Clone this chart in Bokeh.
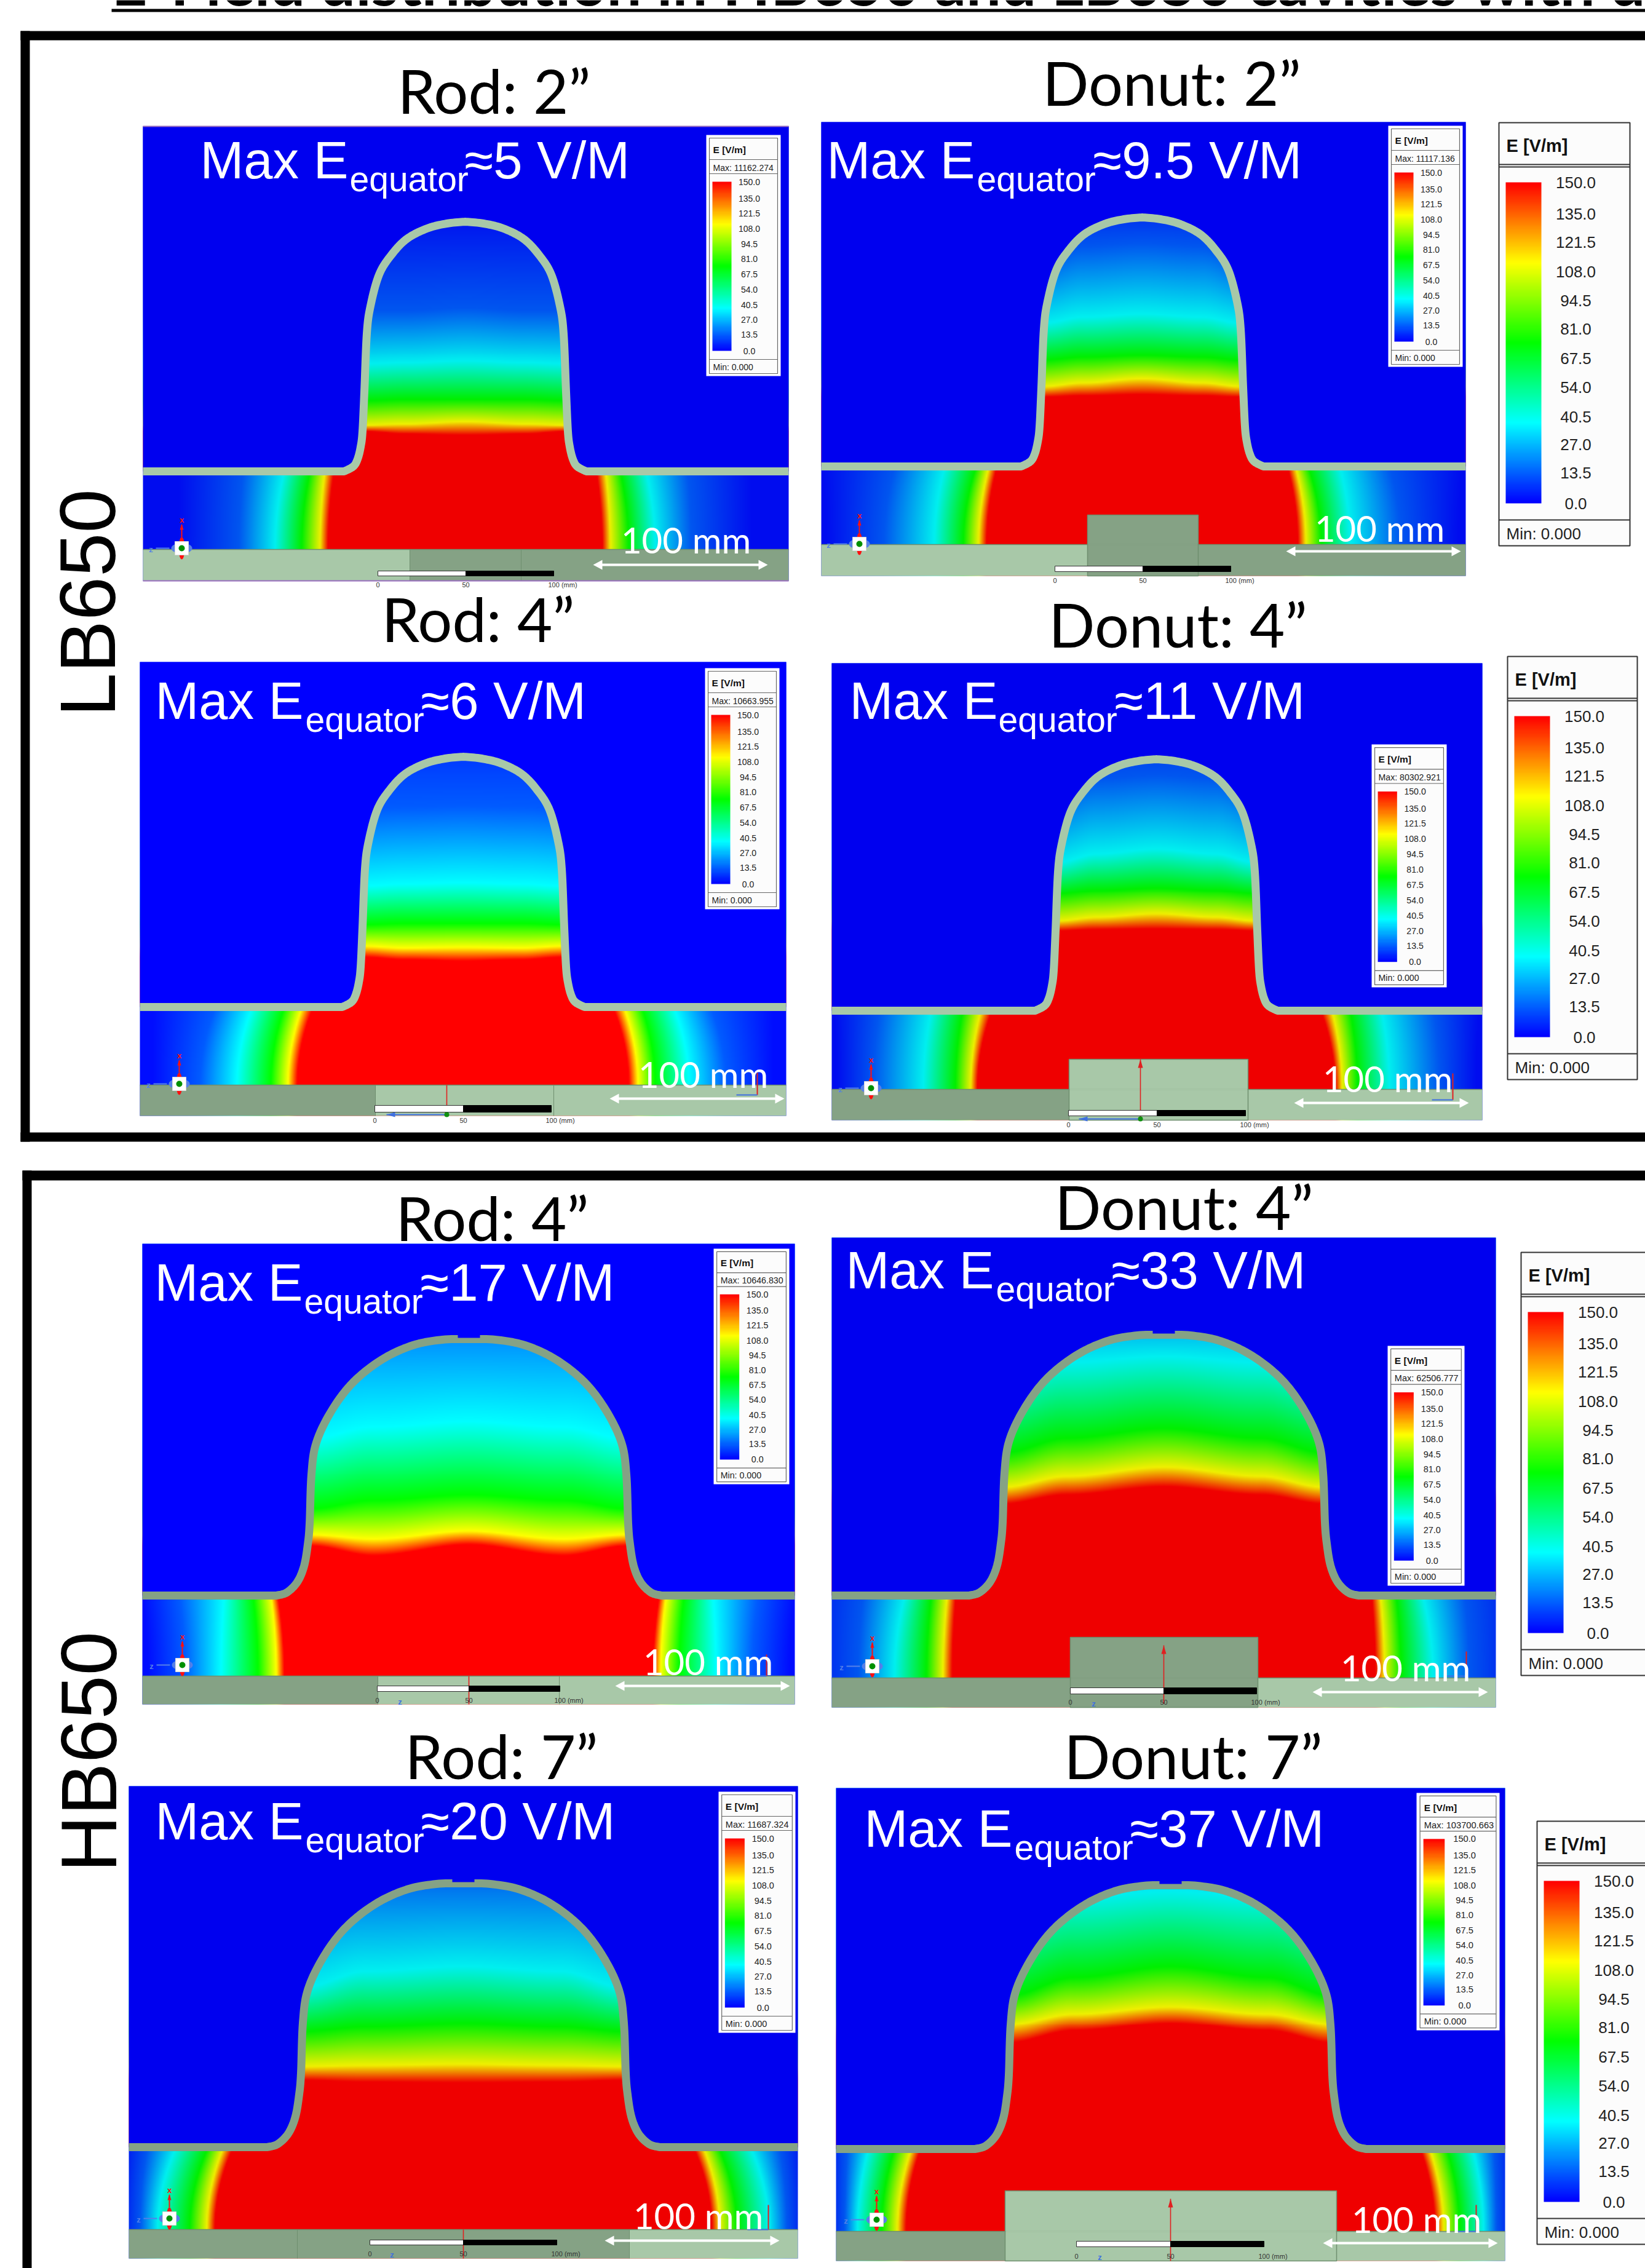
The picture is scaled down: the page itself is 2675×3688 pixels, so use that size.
import numpy as np
from bokeh.plotting import figure
from bokeh.embed import file_html
from bokeh.resources import INLINE
from bokeh.core.properties import value

# ---------- data ----------
title_text = "E-Field distribution in HB650 and LB650 cavities with different"
side_labels = ["LB650", "HB650"]
scale_labels = ["0", "50", "100 (mm)"]
legend_values = ["150.0", "135.0", "121.5", "108.0", "94.5", "81.0", "67.5", "54.0", "40.5", "27.0", "13.5", "0.0"]
color_levels = [0.0, 37.5, 75.0, 112.5, 150.0]
color_rgb = [(0, 0, 255), (0, 255, 255), (0, 255, 0), (255, 255, 0), (255, 0, 0)]

panel_titles = ["Rod: 2”", "Donut: 2”", "Rod: 4”", "Donut: 4”", "Rod: 4”", "Donut: 4”", "Rod: 7”", "Donut: 7”"]
equator_values = ["≈5 V/M", "≈9.5 V/M", "≈6 V/M", "≈11  V/M", "≈17 V/M", "≈33 V/M", "≈20 V/M", "≈37 V/M"]
legend_max = ["Max: 11162.274", "Max: 11117.136", "Max: 10663.955", "Max: 80302.921",
              "Max: 10646.830", "Max: 62506.777", "Max: 11687.324", "Max:  103700.663"]

# cavity wall outlines: half-width and height above the beam-pipe line
lb_dx = [197, 182, 175, 170, 167, 164, 160, 154, 140, 120, 95, 62, 30, 0]
lb_up = [0, 8, 20, 40, 65, 129, 224, 269, 320, 352, 378, 395, 403, 406]
hb_dx = [313, 296, 279, 268, 262, 259, 256, 248, 223, 188, 141, 91, 43, 0]
hb_up = [0, 5, 22, 48, 83, 117, 197, 249, 301, 347, 384, 407, 416, 417]

# field in the dome: value, row at centre, row at mid-width, row at the wall
dome_rod2_lb = [(4, 367, 367, 367), (13.5, 500, 505, 505), (37.5, 587, 590, 592), (75, 650, 650, 652), (112.5, 686, 690, 692), (150, 708, 706, 702)]
dome_donut2_lb = [(9, 360, 360, 360), (13.5, 395, 400, 420), (37.5, 510, 515, 525), (75, 577, 580, 585), (112.5, 615, 622, 628), (150, 641, 643, 645)]
dome_rod4_lb = [(9, 1237, 1237, 1237), (13.5, 1310, 1312, 1315), (37.5, 1435, 1437, 1440), (75, 1501, 1501, 1503), (112.5, 1540, 1541, 1538), (150, 1562, 1560, 1556)]
dome_donut4_lb = [(12, 1241, 1241, 1241), (13.5, 1260, 1265, 1285), (37.5, 1380, 1388, 1402), (75, 1444, 1448, 1453), (112.5, 1486, 1492, 1498), (150, 1511, 1512, 1514)]
dome_rod4_hb = [(22, 2183, 2183, 2183), (37.5, 2311, 2320, 2339), (75, 2431, 2440, 2454), (112.5, 2490, 2503, 2496), (150, 2512, 2530, 2514)]
dome_donut4_hb = [(31, 2176, 2176, 2176), (37.5, 2205, 2215, 2240), (75, 2322, 2338, 2362), (112.5, 2385, 2400, 2418), (150, 2417, 2430, 2445)]
dome_rod7_hb = [(18, 3068, 3068, 3068), (37.5, 3197, 3205, 3232), (75, 3290, 3295, 3303), (112.5, 3356, 3358, 3360), (150, 3386, 3385, 3382)]
dome_donut7_hb = [(36, 3071, 3071, 3071), (37.5, 3075, 3085, 3110), (75, 3197, 3215, 3245), (112.5, 3263, 3275, 3292), (150, 3290, 3302, 3322)]

# field in the pipe: value, distance from centre at the wall, distance at the floor
pipe_rod2_lb = [(2, 466, 466), (13.5, 361, 368), (37.5, 294, 309), (75, 252, 266), (112.5, 228, 236), (150, 213, 223)]
pipe_donut2_lb = [(2, 520, 514), (13.5, 402, 420), (37.5, 321, 338), (75, 270, 291), (112.5, 249, 266), (150, 236, 253)]
pipe_rod4_lb = [(2, 505, 505), (13.5, 403, 428), (37.5, 343, 368), (75, 291, 313), (112.5, 262, 285), (150, 244, 270)]
pipe_donut4_lb = [(2, 524, 520), (13.5, 451, 460), (37.5, 366, 379), (75, 315, 327), (112.5, 285, 302), (150, 267, 291)]
pipe_rod4_hb = [(2, 531, 522), (13.5, 471, 462), (37.5, 398, 403), (75, 351, 343), (112.5, 322, 313), (150, 311, 300)]
pipe_donut4_hb = [(2, 590, 590), (13.5, 489, 497), (37.5, 421, 438), (75, 378, 386), (112.5, 352, 359), (150, 338, 344)]
pipe_rod7_hb = [(2, 555, 560), (13.5, 514, 526), (37.5, 467, 497), (75, 415, 445), (112.5, 390, 417), (150, 374, 404)]
pipe_donut7_hb = [(2, 560, 560), (13.5, 526, 530), (37.5, 491, 509), (75, 449, 470), (112.5, 421, 444), (150, 406, 430)]

LIGHT, DARK = "#A8C8A8", "#85A285"

# ---------- layout ----------
panels = [
 dict(x=(232, 1282), y=(205, 944), floor=893, yf=766, ya=360, cx=756, W=161, lb=True, b=.94, wall=LIGHT,
      dome=dome_rod2_lb, pipe=pipe_rod2_lb, segs=[(232, 666, LIGHT), (666, 1282, DARK)], seplines=[666, 847], stub=None,
      bar=(614, 757, 900, 928, 936), barlab=950, triad=(295, 891), mini=None, hund=(1115, 877), arrow=(964, 1248, 918),
      maxe=(325, 290, 568, 755), tc=(803, 182), leg=(1148, 219, 121, 392), center=None, big=None, base=None, zt=None),
 dict(x=(1335, 2383), y=(198, 936), floor=885, yf=758, ya=353, cx=1857, W=161, lb=True, b=.94, wall=LIGHT,
      dome=dome_donut2_lb, pipe=pipe_donut2_lb, segs=[(1335, 1768, LIGHT), (1768, 2383, DARK)], seplines=[1768, 1948], stub=(1768, 1948, 837, DARK),
      bar=(1715, 1858, 2001, 920, 929), barlab=943, triad=(1397, 884), mini=None, hund=(2243, 858), arrow=(2091, 2375, 896),
      maxe=(1344, 290, 1588, 1777), tc=(1905, 169), leg=(2257, 204, 121, 392), center=None, big=(2437, 199, 213, 688), base=None, zt=None),
 dict(x=(227, 1278), y=(1076, 1814), floor=1764, yf=1637, ya=1230, cx=753, W=161, lb=True, b=1.0, wall=LIGHT,
      dome=dome_rod4_lb, pipe=pipe_rod4_lb, segs=[(227, 610, DARK), (610, 1278, LIGHT)], seplines=[610, 900], stub=None,
      bar=(609, 753, 896, 1797, 1808), barlab=1821, triad=(291, 1762), mini=(1231, 1744, 1780), hund=(1143, 1746), arrow=(991, 1275, 1786),
      maxe=(252, 1169, 496, 684), tc=(777, 1041), leg=(1146, 1086, 121, 392), center=(726, 1764, 1814), big=None, base=(628, 726, 1812), zt=None),
 dict(x=(1352, 2410), y=(1078, 1821), floor=1771, yf=1643, ya=1234, cx=1880, W=161, lb=True, b=.94, wall=LIGHT,
      dome=dome_donut4_lb, pipe=pipe_donut4_lb, segs=[(1352, 1738, DARK), (1738, 2410, LIGHT)], seplines=[1738, 2029], stub=(1738, 2029, 1722, LIGHT),
      bar=(1737, 1881, 2025, 1805, 1814), barlab=1828, triad=(1416, 1769), mini=(2362, 1745, 1788), hund=(2256, 1753), arrow=(2104, 2388, 1793),
      maxe=(1381, 1169, 1623, 1812), tc=(1915, 1050), leg=(2230, 1210, 122, 395), center=(1854, 1722, 1817), big=(2451, 1067, 211, 688), base=(1754, 1854, 1819), zt=None),
 dict(x=(231, 1292), y=(2022, 2771), floor=2725, yf=2594, ya=2177, cx=762, W=259, lb=False, b=1.0, wall=DARK,
      dome=dome_rod4_hb, pipe=pipe_rod4_hb, segs=[(231, 614, DARK), (614, 1292, LIGHT)], seplines=[614, 909], stub=None,
      bar=(613, 762, 910, 2741, 2750), barlab=2764, triad=(296, 2707), mini=(1246, 2690, 2725), hund=(1151, 2701), arrow=(1000, 1284, 2741),
      maxe=(251, 2115, 494, 683), tc=(800, 2015), leg=(1160, 2030, 123, 383), center=(762, 2725, 2771), big=None, base=None, zt=(650, 2767)),
 dict(x=(1352, 2432), y=(2012, 2776), floor=2728, yf=2594, ya=2170, cx=1892, W=262, lb=False, b=.94, wall=DARK,
      dome=dome_donut4_hb, pipe=pipe_donut4_hb, segs=[(1352, 2045, DARK), (2045, 2432, LIGHT)], seplines=[1740, 2045], stub=(1740, 2045, 2662, DARK),
      bar=(1740, 1892, 2043, 2744, 2754), barlab=2767, triad=(1418, 2709), mini=(2384, 2685, 2725), hund=(2285, 2711), arrow=(2134, 2419, 2751),
      maxe=(1375, 2095, 1619, 1807), tc=(1925, 1997), leg=(2256, 2188, 125, 390), center=(1892, 2675, 2770), big=(2473, 2036, 213, 688), base=None, zt=(1778, 2770)),
 dict(x=(209, 1297), y=(2904, 3672), floor=3625, yf=3491, ya=3062, cx=753, W=264, lb=False, b=.94, wall=DARK,
      dome=dome_rod7_hb, pipe=pipe_rod7_hb, segs=[(209, 1023, DARK), (1023, 1297, LIGHT)], seplines=[483, 1023], stub=None,
      bar=(601, 753, 905, 3642, 3650), barlab=3664, triad=(275, 3607), mini=(1249, 3585, 3625), hund=(1135, 3602), arrow=(983, 1267, 3643),
      maxe=(252, 2991, 496, 684), tc=(815, 2890), leg=(1168, 2913, 125, 392), center=(753, 3625, 3672), big=None, base=None, zt=(637, 3666)),
 dict(x=(1359, 2447), y=(2907, 3676), floor=3628, yf=3494, ya=3065, cx=1903, W=263, lb=False, b=.94, wall=DARK,
      dome=dome_donut7_hb, pipe=pipe_donut7_hb, segs=[(1359, 2173, DARK), (2173, 2447, LIGHT)], seplines=[1634, 2173], stub=(1634, 2173, 3562, LIGHT),
      bar=(1750, 1903, 2055, 3644, 3653), barlab=3668, triad=(1425, 3609), mini=(2400, 3585, 3628), hund=(2303, 3608), arrow=(2151, 2435, 3647),
      maxe=(1405, 3003, 1649, 1837), tc=(1940, 2890), leg=(2303, 2915, 135, 386), center=(1903, 3575, 3676), big=(2499, 2961, 213, 688), base=None, zt=(1788, 3670)),
]
label_fracs = [0, .0995, .187, .279, .369, .457, .548, .639, .73, .818, .905, 1]

# ---------- helpers ----------
def rainbow(v, b=1.0):
    v = np.asarray(v, dtype=float)
    rgb = [np.interp(v, color_levels, [c[k] for c in color_rgb]) * b for k in range(3)]
    return np.dstack(rgb + [np.full(v.shape, 255.0)]).astype(np.uint8)

def to_rgba(a):
    h, w, _ = a.shape
    out = np.zeros((h, w), dtype=np.uint32)
    out.view(np.uint8).reshape(h, w, 4)[:] = a
    return out

def smooth(t):
    t = np.clip(t, 0, 1)
    return t * t * (3 - 2 * t)

def field(P, step=2):
    x0, x1 = P["x"]; y0, y1 = P["y"]
    xs = np.arange(x0, x1, step) + step / 2
    ys = np.arange(y0, y1, step) + step / 2
    V = np.zeros((len(ys), len(xs)))
    dome = np.array(P["dome"], dtype=float)
    pipe = np.array(P["pipe"], dtype=float)
    vals = dome[:, 0]
    yf, fl = P["yf"], P["floor"]
    top = ys < yf
    for i, x in enumerate(xs):
        u = min(abs(x - P["cx"]) / P["W"], 1.0)
        yk = dome[:, 1] + (dome[:, 2] - dome[:, 1]) * smooth(u / .6) + (dome[:, 3] - dome[:, 2]) * smooth((u - .6) / .4)
        yk = np.maximum.accumulate(yk)
        V[top, i] = np.interp(ys[top], yk, vals, left=vals[0], right=150)
    for j in np.where(~top)[0]:
        s = min((ys[j] - yf) / (fl - yf), 1.0)
        s = 1 - (1 - s) ** 2
        dk = pipe[:, 1] + (pipe[:, 2] - pipe[:, 1]) * s
        V[j, :] = np.interp(np.abs(xs - P["cx"]), dk[::-1], pipe[::-1, 0], left=150, right=2)
    return to_rgba(rainbow(V, P["b"]))

def catmull(px, py, n=10):
    pts = np.column_stack([px, py]).astype(float)
    p_ = np.vstack([pts[0], pts, pts[-1]])
    out = []
    for i in range(1, len(p_) - 2):
        for t in np.linspace(0, 1, n, endpoint=False):
            a, b, c, d = p_[i - 1], p_[i], p_[i + 1], p_[i + 2]
            out.append(.5 * (2 * b + (c - a) * t + (2 * a - 5 * b + 4 * c - d) * t ** 2 + (3 * b - a - 3 * c + d) * t ** 3))
    out.append(pts[-1])
    return np.array(out)

def hexc(b):
    return "#%02X%02X%02X" % (0, 0, int(255 * b))

# ---------- figure ----------
p = figure(width=2675, height=3688, x_range=(0, 2675), y_range=(3688, 0), min_border=0,
           toolbar_location=None, output_backend="svg")
p.axis.visible = False
p.grid.visible = False
p.outline_line_color = None

LAT, ARI = value("Lato"), value("Liberation Sans")
OFF = {"Lato": .36, "Liberation Sans": .35}

def text(x, y, s, size, font=ARI, color="#000000", align="left", base="alphabetic", style="normal", angle=0):
    # baseline positions are turned into centre-line positions
    if base == "alphabetic":
        k = OFF[font.value] * size
        if angle:
            x = x - k
        else:
            y = y - k
        base = "middle"
    p.text(x=[x], y=[y], text=[s], text_font=font, text_font_size=value(f"{size}px"), text_color=color,
           text_align=align, text_baseline=base, text_font_style=style, angle=angle)

# frames and title
for q in [(33, 2675, 50, 65), (33, 48, 50, 1856), (33, 2675, 1841, 1856),
          (36, 2675, 1903, 1919), (36, 51, 1903, 3688), (181, 2675, 14, 19)]:
    p.quad(left=q[0], right=q[1], top=q[2], bottom=q[3], fill_color="#000000", line_color=None)
text(181, 6, title_text, 101, font=LAT, style="bold")
text(187, 1165, side_labels[0], 128, angle=np.pi / 2)
text(189, 3044, side_labels[1], 128, angle=np.pi / 2)

def colorbar(x0, x1, y0, y1):
    v = np.linspace(150, 0, 256).reshape(-1, 1)
    p.image_rgba(image=[to_rgba(rainbow(v))], x=x0, y=y0, dw=x1 - x0, dh=y1 - y0)

def legend(P, i):
    x, y, w, h = P["leg"]
    sx, sy = w / 121, h / 392
    p.quad(left=x, right=x + w, top=y, bottom=y + h, fill_color="#FFFFFF", line_color=None)
    p.quad(left=x + 5 * sx, right=x + w - 5 * sx, top=y + 5 * sy, bottom=y + h - 4 * sy, fill_color="#FCFCFC", line_color="#666666", line_width=1.2)
    for dy in (40, 63, 365):
        p.segment(x0=x + 5 * sx, x1=x + w - 5 * sx, y0=y + dy * sy, y1=y + dy * sy, line_color="#666666", line_width=1.2)
    bx0, bx1, by0, by1 = x + 10 * sx, x + 41 * sx, y + 76 * sy, y + 351 * sy
    colorbar(bx0, bx1, by0, by1)
    fs = 14 * min(sx, 1.05)
    for s, f in zip(legend_values, label_fracs):
        text(x + 70 * sx, by0 + f * (by1 - by0), s, fs, align="center", base="middle", color="#222222")
    text(x + 11 * sx, y + 24 * sy, "E [V/m]", 15.5, style="bold", base="middle", color="#111111")
    text(x + 11 * sx, y + 53 * sy, legend_max[i], fs, base="middle", color="#222222")
    text(x + 11 * sx, y + 377 * sy, "Min:   0.000", fs, base="middle", color="#222222")

def big_legend(P):
    x, y, w, h = P["big"]
    sy = h / 688
    p.quad(left=x, right=x + w, top=y, bottom=y + h, fill_color="#FCFCFC", line_color="#333333", line_width=2)
    for dy in (68, 72, 646):
        p.segment(x0=x, x1=x + w, y0=y + dy * sy, y1=y + dy * sy, line_color="#333333", line_width=2)
    by0, by1 = y + 97 * sy, y + 619 * sy
    colorbar(x + 11, x + 69, by0, by1)
    for s, f in zip(legend_values, label_fracs):
        text(x + 125, by0 + f * (by1 - by0), s, 26, align="center", base="middle", color="#222222")
    text(x + 12, y + 37 * sy, "E [V/m]", 29, style="bold", base="middle", color="#111111")
    text(x + 12, y + 668 * sy, "Min:  0.000", 26, base="middle", color="#222222")

def triad(tx, ty):
    p.ellipse(x=[tx], y=[ty], width=10, height=36, fill_color="#FF1010", line_color=None)
    p.ellipse(x=[tx], y=[ty], width=34, height=17, fill_color="#5580E8", line_color=None)
    p.quad(left=tx - 11, right=tx + 11, top=ty - 11, bottom=ty + 11, fill_color="#FFFFFF", line_color="#D8D8D8")
    p.ellipse(x=[tx], y=[ty], width=10, height=10, fill_color="#009000", line_color=None)
    p.segment(x0=tx, x1=tx, y0=ty - 18, y1=ty - 38, line_color="#FF1010", line_width=2)
    p.patch(x=[tx - 3, tx + 3, tx], y=[ty - 30, ty - 30, ty - 40], fill_color="#FF1010", line_color=None)
    p.segment(x0=tx - 20, x1=tx - 42, y0=ty, y1=ty, line_color="#5580E8", line_width=2)
    text(tx, ty - 46, "x", 13, color="#FF1010", align="center", base="middle", style="bold")
    text(tx - 50, ty + 2, "z", 13, color="#5580E8", align="center", base="middle", style="bold")

for i, P in enumerate(panels):
    x0, x1 = P["x"]; y0, y1 = P["y"]
    H = P["yf"] - P["ya"]
    p.image_rgba(image=[field(P)], x=x0, y=y0, dw=x1 - x0, dh=y1 - y0)
    dx0 = np.array(lb_dx if P["lb"] else hb_dx, float) * P["W"] / (161 if P["lb"] else 259)
    up0 = np.array(lb_up if P["lb"] else hb_up, float) * H / (406 if P["lb"] else 417)
    half = catmull(dx0, up0)
    wx = np.concatenate([[x0], P["cx"] - half[:, 0], P["cx"] + half[::-1, 0][1:], [x1]])
    wy = np.concatenate([[P["yf"]], P["yf"] - half[:, 1], P["yf"] - half[::-1, 1][1:], [P["yf"]]])
    blue = hexc(P["b"])
    p.patch(x=np.concatenate([[x0, x1, x1], wx[::-1]]), y=np.concatenate([[y0, y0, P["yf"]], wy[::-1]]),
            fill_color=blue, line_color=None)
    p.line(x=wx, y=wy, line_color=P["wall"], line_width=13, line_join="round")
    if not P["lb"]:
        p.quad(left=P["cx"] - 18, right=P["cx"] + 18, top=P["ya"] - 8, bottom=P["ya"] - 2, fill_color=blue, line_color=None)
    # floor
    for a, b, c in P["segs"]:
        p.quad(left=a, right=b, top=P["floor"], bottom=y1, fill_color=c, line_color=None)
    if P["stub"]:
        a, b, t, c = P["stub"]
        p.quad(left=a, right=b, top=t, bottom=y1, fill_color=c, line_color="#6F8F6F", line_width=1.5)
    p.segment(x0=x0, x1=x1, y0=P["floor"], y1=P["floor"], line_color="#6F8F6F", line_width=1.5)
    if P["stub"]:
        a, b, t, c = P["stub"]
        p.segment(x0=a + 1, x1=b - 1, y0=P["floor"], y1=P["floor"], line_color=c, line_width=2)
    for sx in P["seplines"]:
        p.segment(x0=sx, x1=sx, y0=P["floor"], y1=y1, line_color="#6F8F6F", line_width=1)
    if i == 0:
        p.segment(x0=[x0, x0], x1=[x1, x1], y0=[y0, y1], y1=[y0, y1], line_color="#9A6FC0", line_width=2)
    if P["center"]:
        c, a, b = P["center"]
        p.segment(x0=c, x1=c, y0=a, y1=b, line_color="#E02020", line_width=1.6)
        if P["stub"]:
            p.patch(x=[c - 4, c + 4, c], y=[a + 14, a + 14, a], fill_color="#E02020", line_color=None)
    # scale bar
    a, m, b, t, bt = P["bar"]
    p.quad(left=a, right=m, top=t, bottom=bt, fill_color="#FFFFFF", line_color="#333333", line_width=1)
    p.quad(left=m, right=b, top=t, bottom=bt, fill_color="#000000", line_color="#000000", line_width=1)
    if P["base"]:
        a2, b2, y2 = P["base"]
        p.segment(x0=a2, x1=b2, y0=y2, y1=y2, line_color="#4070E0", line_width=2)
        p.patch(x=[a2, a2 + 14, a2 + 14], y=[y2, y2 - 4, y2 + 4], fill_color="#4070E0", line_color=None)
        p.ellipse(x=[b2], y=[y2], width=8, height=8, fill_color="#109010", line_color=None)
    if P["zt"]:
        text(P["zt"][0], P["zt"][1], "z", 13, color="#4070E0", align="center", base="middle", style="bold")
    text(a, P["barlab"], scale_labels[0], 11, align="center", base="middle", color="#333333")
    text(m, P["barlab"], scale_labels[1], 11, align="center", base="middle", color="#333333")
    text(b - 9, P["barlab"], scale_labels[2], 11, base="middle", color="#333333")
    triad(*P["triad"])
    if P["mini"]:
        mx, ma, mb = P["mini"]
        p.segment(x0=mx, x1=mx, y0=ma, y1=mb, line_color="#E02020", line_width=2)
        p.segment(x0=mx - 34, x1=mx, y0=mb, y1=mb, line_color="#4070E0", line_width=2)
    # 100 mm + arrow
    hx, hy = P["hund"]
    text(hx, hy, "100 mm", 58, font=LAT, color="#FFFFFF", align="center", base="middle")
    a, b, ay = P["arrow"]
    p.segment(x0=a + 6, x1=b - 6, y0=ay, y1=ay, line_color="#FFFFFF", line_width=4)
    p.patch(x=[a, a + 15, a + 15], y=[ay, ay - 8, ay + 8], fill_color="#FFFFFF", line_color=None)
    p.patch(x=[b, b - 15, b - 15], y=[ay, ay - 8, ay + 8], fill_color="#FFFFFF", line_color=None)
    # Max E
    mx, my, sx_, vx = P["maxe"]
    text(mx, my, "Max E", 85, color="#FFFFFF")
    text(sx_, my + 20, "equator", 57, color="#FFFFFF")
    text(vx, my, equator_values[i], 85, color="#FFFFFF")
    tx, ty = P["tc"]
    text(tx, ty, panel_titles[i], 99, font=LAT, align="center")
    legend(P, i)
    if P["big"]:
        big_legend(P)

open("out.html", "w").write(file_html(p, INLINE))
